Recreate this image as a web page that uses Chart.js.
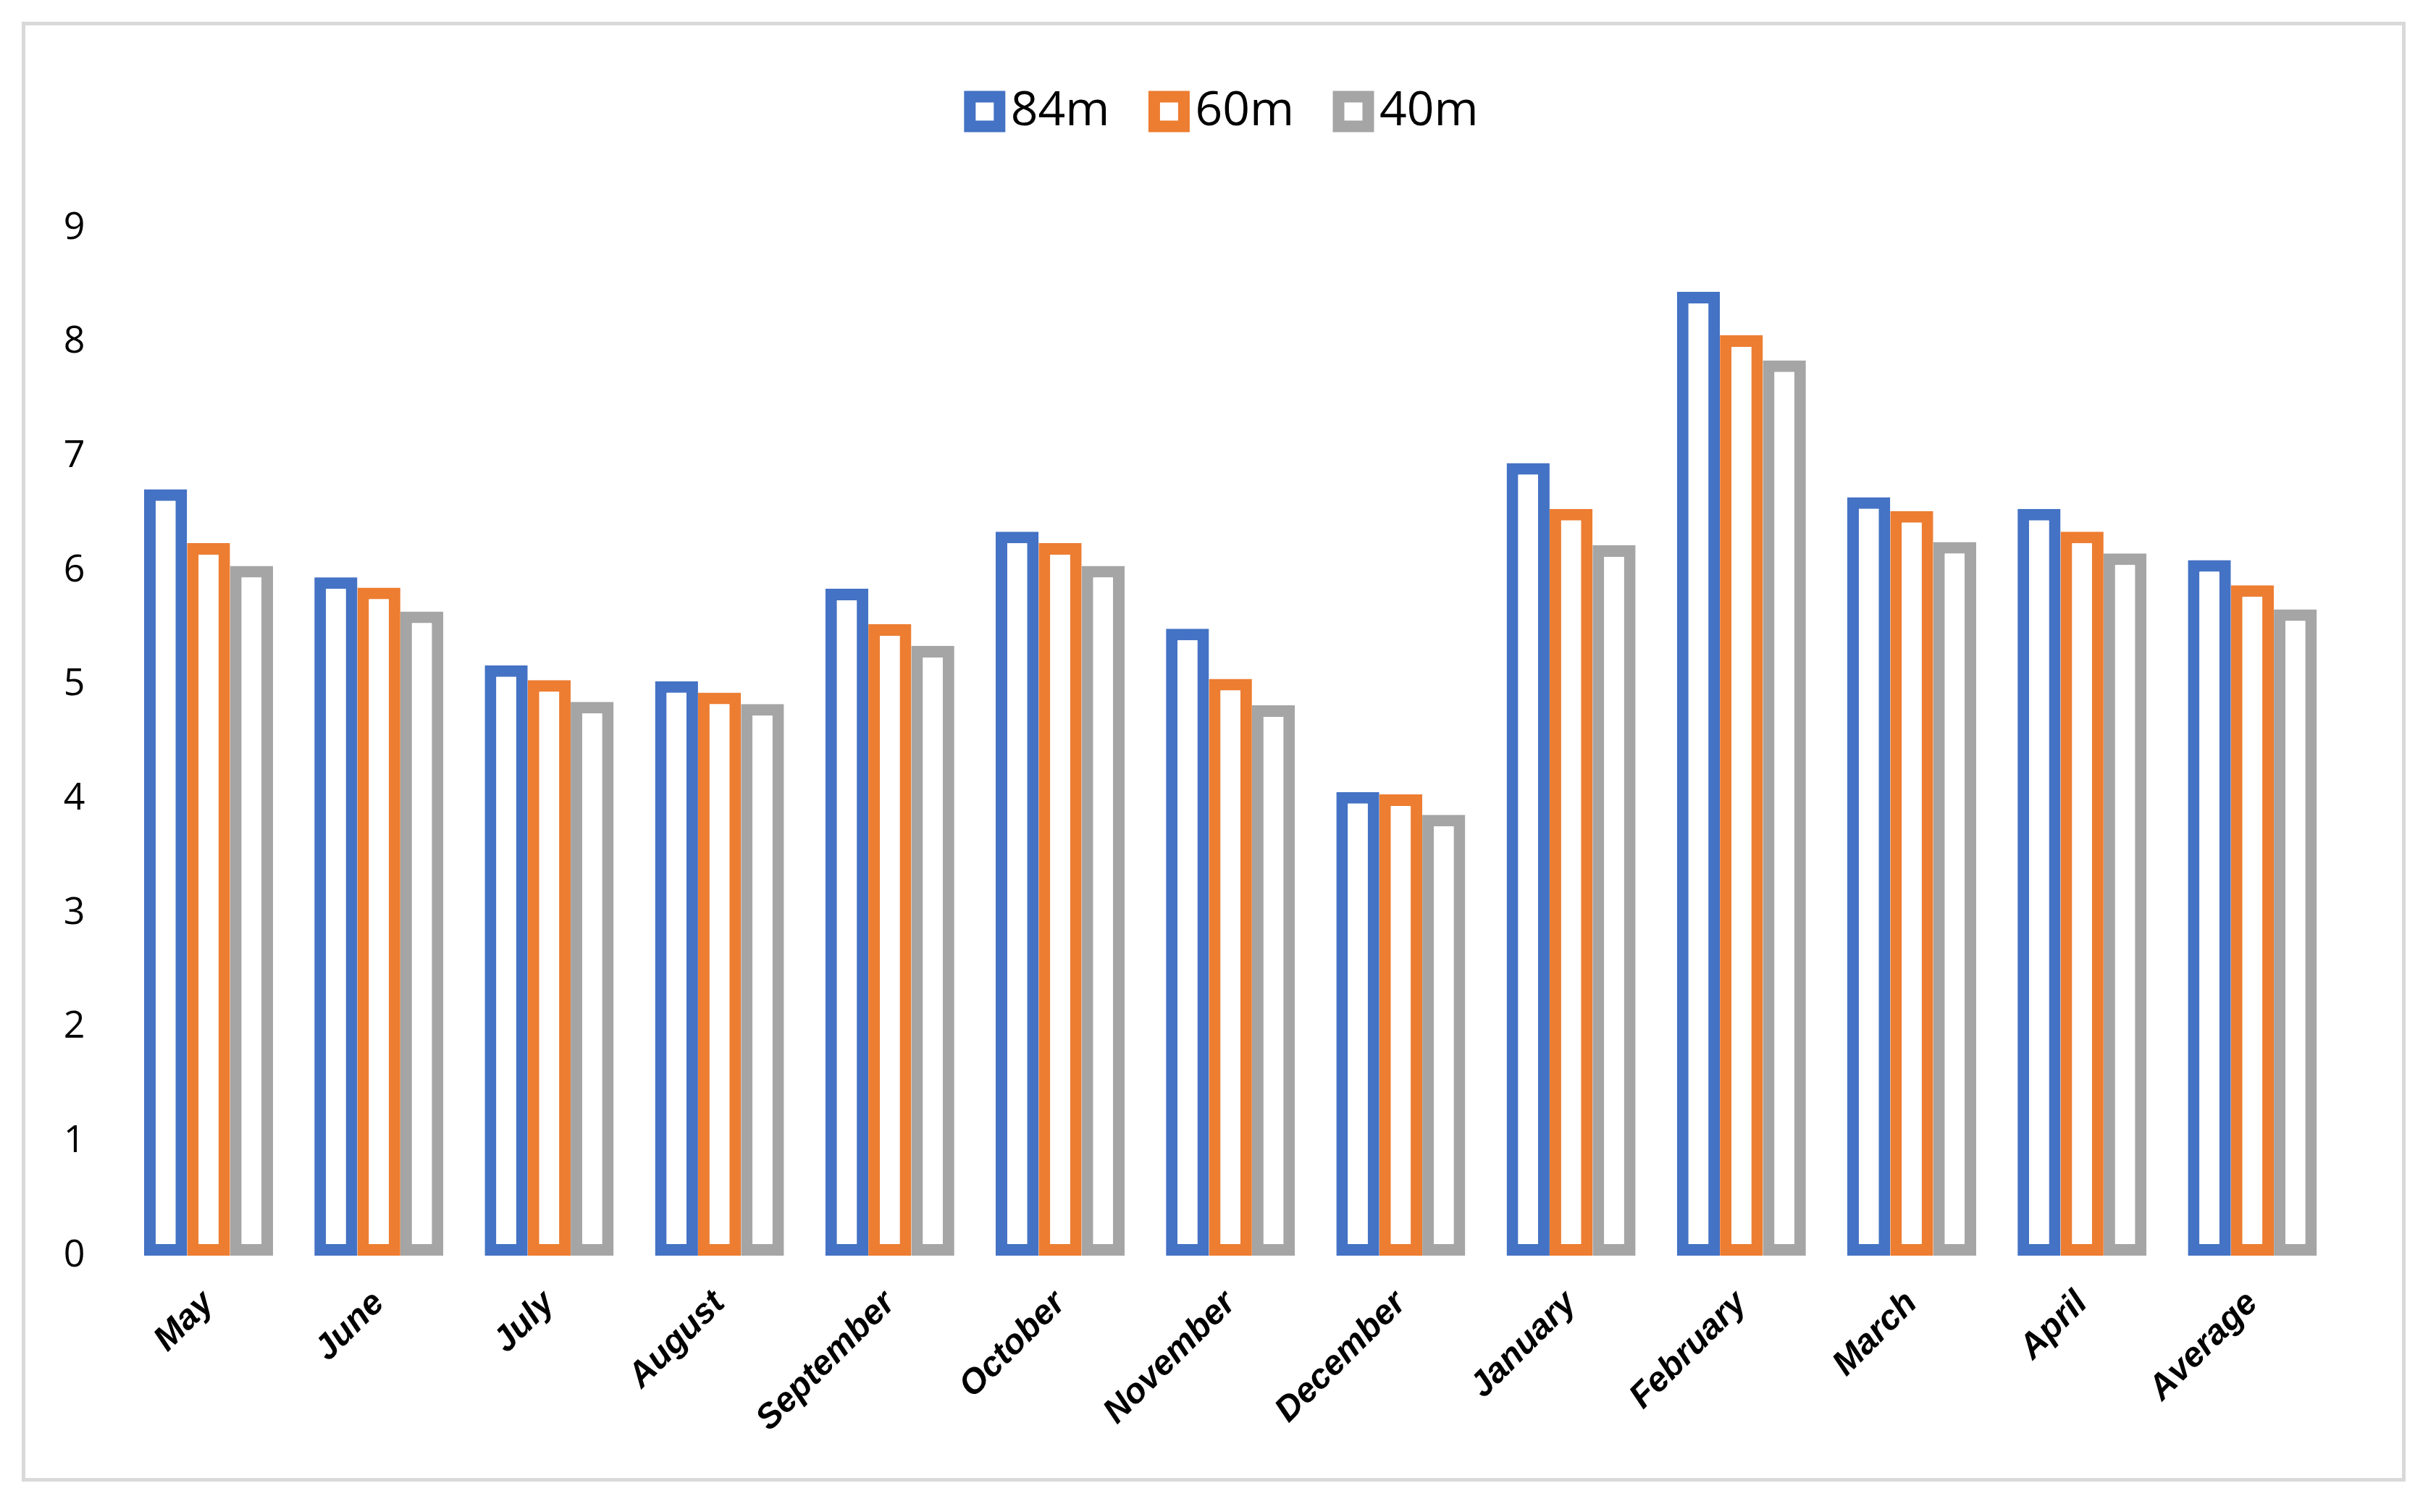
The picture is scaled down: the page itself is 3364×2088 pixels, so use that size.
<!DOCTYPE html>
<html>
<head>
<meta charset="utf-8">
<script src="https://cdn.jsdelivr.net/npm/chart.js@4.4.1/dist/chart.umd.min.js"></script>
<style>
  html, body { margin: 0; padding: 0; background: #ffffff; overflow: hidden; }
  #wrap { position: absolute; left: 0; top: 0; width: 3364px; height: 2088px; }
  #frame { position: absolute; left: 30px; top: 30px; width: 3282px; height: 2006px; border: 5px solid #d9d9d9; pointer-events: none; }
</style>
</head>
<body>
<div id="wrap"><canvas id="c"></canvas></div>
<div id="frame"></div>
<script>
const categories = ["May", "June", "July", "August", "September", "October", "November", "December", "January", "February", "March", "April", "Average"];
const seriesNames = ["84m", "60m", "40m"];
const values84 = [6.71, 5.94, 5.17, 5.03, 5.84, 6.34, 5.49, 4.06, 6.94, 8.44, 6.64, 6.54, 6.09];
const values60 = [6.24, 5.85, 5.04, 4.93, 5.53, 6.24, 5.05, 4.04, 6.54, 8.06, 6.52, 6.34, 5.87];
const values40 = [6.04, 5.64, 4.85, 4.83, 5.34, 6.04, 4.82, 3.86, 6.22, 7.84, 6.25, 6.15, 5.66];
const yTicks = [0, 1, 2, 3, 4, 5, 6, 7, 8, 9];
const colors = ["#4472C4", "#ED7D31", "#A5A5A5"];

const seriesValues = [values84, values60, values40];

const legendSpace = {
  id: 'legendSpace',
  beforeInit(chart) {
    const legend = chart.legend;
    if (!legend) return;
    const origFit = legend.fit;
    legend.fit = function () {
      origFit.call(this);
      this.height = 272.7;
    };
  }
};

new Chart(document.getElementById('c'), {
  type: 'bar',
  data: {
    labels: categories,
    datasets: seriesNames.map((name, i) => ({
      label: name,
      data: seriesValues[i],
      backgroundColor: '#ffffff',
      borderColor: colors[i],
      borderWidth: 16,
      borderSkipped: false,
      barPercentage: 1.0,
      categoryPercentage: 0.757
    }))
  },
  options: {
    responsive: true,
    maintainAspectRatio: false,
    devicePixelRatio: 1,
    animation: false,
    layout: { padding: { top: 42, left: 0, right: 136, bottom: 0 } },
    plugins: {
      tooltip: { enabled: false },
      legend: {
        display: true,
        position: 'top',
        fullSize: false,
        labels: {
          usePointStyle: true,
          pointStyle: 'rect',
          boxWidth: 6,
          boxHeight: 41,
          padding: 79,
          color: '#000000',
          font: { family: "'Open Sans', 'Noto Sans', sans-serif", size: 66 }
        }
      }
    },
    scales: {
      x: {
        grid: { display: false, drawTicks: false },
        border: { display: false },
        ticks: {
          autoSkip: false,
          maxRotation: 45,
          minRotation: 45,
          padding: 38,
          color: '#000000',
          font: { family: "'Liberation Sans', Arial, sans-serif", size: 48, weight: 'bold', style: 'italic' }
        },
        afterFit(scale) { scale.height = 354; }
      },
      y: {
        min: 0,
        max: 9,
        grid: { display: false, drawTicks: false },
        border: { display: false },
        ticks: {
          stepSize: 1,
          padding: 53,
          color: '#000000',
          font: { family: "'Open Sans', 'Noto Sans', sans-serif", size: 52 },
          callback: (v) => yTicks.includes(v) ? String(v) : ''
        },
        afterFit(scale) { scale.width = 170.4; }
      }
    }
  },
  plugins: [legendSpace]
});
</script>
</body>
</html>
